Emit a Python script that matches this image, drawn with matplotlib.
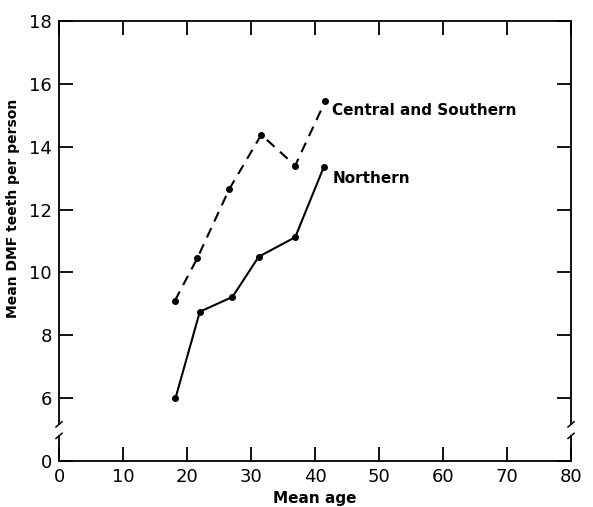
import numpy as np
import matplotlib.pyplot as plt

# mean age and mean DMF teeth per person
age_cs = [18.1, 21.6, 26.6, 31.6, 36.9, 41.6]
dmf_cs = [9.1, 10.45, 12.65, 14.38, 13.4, 15.45]
age_n = [18.2, 22.0, 27.1, 31.2, 36.9, 41.4]
dmf_n = [6.0, 8.75, 9.22, 10.5, 11.12, 13.37]

xticks = [0, 10, 20, 30, 40, 50, 60, 70, 80]
yticks = [0, 6, 8, 10, 12, 14, 16, 18]


# broken y axis: 0..6 squeezed into two units
def fwd(y):
    y = np.asarray(y, dtype=float)
    return np.where(y <= 6, y / 3.0, y - 4.0)


def inv(u):
    u = np.asarray(u, dtype=float)
    return np.where(u <= 2, u * 3.0, u + 4.0)


fig = plt.figure(figsize=(5.93, 5.07), dpi=100)
ax = fig.add_axes([0.0995, 0.0907, 0.8635, 0.8679])
ax.set_yscale('function', functions=(fwd, inv))
ax.set_xlim(0, 80)
ax.set_ylim(0, 18)

ax.plot(age_cs, dmf_cs, color='black', lw=1.5, ls=(0, (5, 3.5)),
        marker='o', ms=4)
ax.plot(age_n, dmf_n, color='black', lw=1.5, marker='o', ms=4)

ax.text(42.7, 15.15, 'Central and Southern', fontsize=11, fontweight='bold',
        va='center', ha='left')
ax.text(42.8, 13.0, 'Northern', fontsize=11, fontweight='bold',
        va='center', ha='left')

ax.set_xticks(xticks)
ax.set_yticks(yticks)
ax.set_xticklabels([str(v) for v in xticks], fontsize=13)
ax.set_yticklabels([str(v) for v in yticks], fontsize=13)
ax.yaxis.set_minor_locator(plt.NullLocator())
ax.tick_params(direction='in', length=10, width=1.3, top=True, right=True,
               labelright=False, labeltop=False)
ax.tick_params(axis='x', pad=5)
ax.tick_params(axis='y', pad=5)

ax.set_xlabel('Mean age', fontsize=11, fontweight='bold')
ax.set_ylabel('Mean DMF teeth per person', fontsize=10, fontweight='bold')
ax.xaxis.set_label_coords(0.5, -0.068)
ax.yaxis.set_label_coords(-0.076, 0.575)

for s in ['top', 'bottom']:
    ax.spines[s].set_linewidth(1.3)
ax.spines['left'].set_visible(False)
ax.spines['right'].set_visible(False)

# redraw side spines with a break and slash marks
tr = ax.get_yaxis_transform()
lo, hi = 2.4, 3.5
for xa in [0, 1]:
    ax.plot([xa, xa], [0, lo], transform=tr, color='black', lw=1.3,
            clip_on=False)
    ax.plot([xa, xa], [hi, 18], transform=tr, color='black', lw=1.3,
            clip_on=False)
    ax.plot([xa - 0.006, xa + 0.006], [lo - 0.25, lo + 0.25], transform=tr,
            color='black', lw=1.1, clip_on=False)
    ax.plot([xa - 0.006, xa + 0.006], [hi - 0.25, hi + 0.25], transform=tr,
            color='black', lw=1.1, clip_on=False)

fig.savefig('out.png', dpi=100)
